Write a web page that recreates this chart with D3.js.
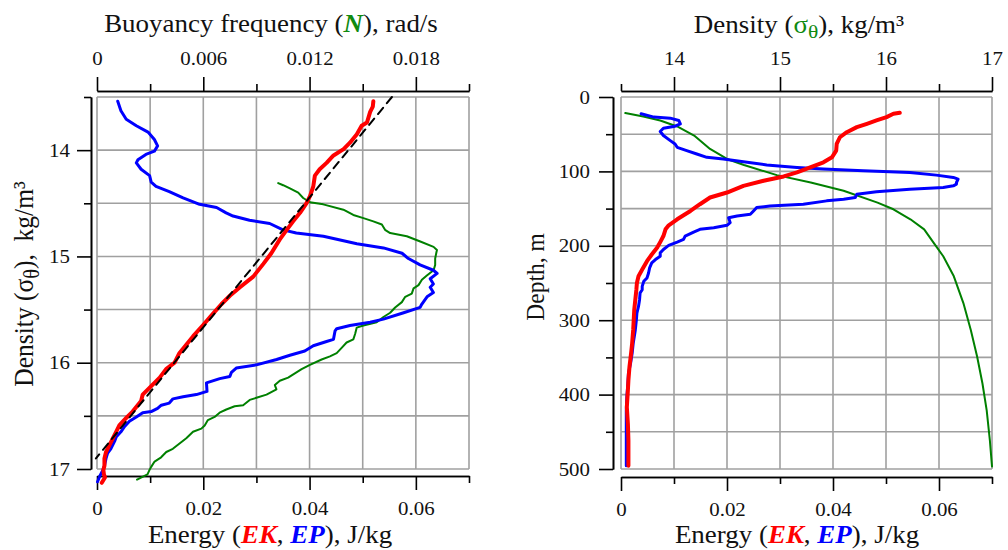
<!DOCTYPE html>
<html>
<head>
<meta charset="utf-8">
<script src="https://cdn.jsdelivr.net/npm/d3@7"></script>
<style>
  body { margin: 0; background: #fff; }
  text { font-family: "Liberation Serif", "Times New Roman", serif; }
</style>
</head>
<body>
<svg id="chart" width="1008" height="550"></svg>
<script>
// tick values
const energyTicks = [0, 0.02, 0.04, 0.06];
const energyMinor = [0.01, 0.03, 0.05, 0.07];
const nTicks = [0, 0.006, 0.012, 0.018];
const nMinor = [0.003, 0.009, 0.015, 0.021];
const densityTicks = [14, 15, 16, 17];
const densityMinor = [13.5, 14.5, 15.5, 16.5];
const depthTicks = [0, 100, 200, 300, 400, 500];
const depthMinor = [50, 150, 250, 350, 450];

// left panel: [EP J/kg, sigma-theta]
const epLeft = [[0.0039,13.54],[0.0045,13.63],[0.0055,13.71],[0.0074,13.77],[0.0096,13.83],[0.0108,13.90],[0.0114,13.96],[0.0108,14.01],[0.0092,14.04],[0.0077,14.09],[0.0074,14.12],[0.0083,14.18],[0.0099,14.24],[0.0102,14.30],[0.0111,14.34],[0.0136,14.39],[0.0162,14.45],[0.0193,14.51],[0.0225,14.54],[0.0243,14.59],[0.0256,14.62],[0.0287,14.66],[0.0325,14.69],[0.0350,14.75],[0.0375,14.78],[0.0426,14.81],[0.0489,14.88],[0.0539,14.92],[0.0574,14.97],[0.0586,15.02],[0.0608,15.08],[0.0633,15.13],[0.0640,15.16],[0.0627,15.21],[0.0633,15.26],[0.0627,15.29],[0.0633,15.34],[0.0621,15.38],[0.0611,15.45],[0.0608,15.48],[0.0577,15.53],[0.0539,15.59],[0.0514,15.62],[0.0476,15.65],[0.0451,15.68],[0.0448,15.70],[0.0445,15.78],[0.0432,15.80],[0.0407,15.84],[0.0391,15.89],[0.0363,15.93],[0.0338,15.97],[0.0300,16.02],[0.0262,16.05],[0.0253,16.09],[0.0250,16.13],[0.0231,16.15],[0.0206,16.19],[0.0207,16.27],[0.0187,16.30],[0.0162,16.32],[0.0143,16.34],[0.0136,16.38],[0.0121,16.40],[0.0114,16.43],[0.0102,16.46],[0.0086,16.47],[0.0074,16.51],[0.0061,16.55],[0.0052,16.60],[0.0045,16.65],[0.0036,16.70],[0.0033,16.74],[0.0026,16.81],[0.0020,16.85],[0.0017,16.90],[0.0014,16.97],[0.0011,17.01],[0.0005,17.07],[0.0001,17.12]];
// left panel: [EK J/kg, sigma-theta]
const ekLeft = [[0.0520,13.54],[0.0519,13.59],[0.0514,13.64],[0.0508,13.74],[0.0498,13.77],[0.0489,13.85],[0.0476,13.93],[0.0464,13.99],[0.0445,14.05],[0.0432,14.12],[0.0419,14.18],[0.0410,14.24],[0.0407,14.34],[0.0401,14.43],[0.0394,14.50],[0.0382,14.59],[0.0369,14.67],[0.0357,14.75],[0.0344,14.84],[0.0328,14.97],[0.0313,15.07],[0.0294,15.19],[0.0269,15.29],[0.0250,15.37],[0.0234,15.45],[0.0218,15.54],[0.0199,15.65],[0.0181,15.75],[0.0168,15.83],[0.0155,15.91],[0.0146,16.00],[0.0130,16.06],[0.0118,16.14],[0.0102,16.22],[0.0086,16.30],[0.0083,16.36],[0.0067,16.46],[0.0055,16.52],[0.0042,16.59],[0.0036,16.65],[0.0030,16.71],[0.0023,16.78],[0.0017,16.84],[0.0014,16.90],[0.0014,16.97],[0.0012,17.01],[0.0013,17.05],[0.0015,17.08],[0.0009,17.13]];
// left panel: [N rad/s, sigma-theta]
const nLeft = [[0.01023,14.31],[0.01051,14.33],[0.01089,14.36],[0.01136,14.40],[0.01164,14.45],[0.01202,14.49],[0.01277,14.51],[0.01391,14.56],[0.01447,14.61],[0.01504,14.64],[0.01560,14.67],[0.01608,14.70],[0.01626,14.75],[0.01655,14.78],[0.01749,14.81],[0.01825,14.86],[0.01900,14.91],[0.01919,14.94],[0.01915,14.97],[0.01909,15.02],[0.01909,15.08],[0.01900,15.13],[0.01862,15.18],[0.01834,15.22],[0.01815,15.27],[0.01787,15.30],[0.01777,15.35],[0.01740,15.38],[0.01721,15.43],[0.01683,15.48],[0.01655,15.53],[0.01617,15.57],[0.01579,15.62],[0.01504,15.65],[0.01466,15.67],[0.01457,15.73],[0.01447,15.78],[0.01409,15.81],[0.01381,15.86],[0.01353,15.91],[0.01315,15.94],[0.01268,15.97],[0.01202,16.02],[0.01155,16.06],[0.01126,16.09],[0.01079,16.14],[0.01032,16.17],[0.01004,16.21],[0.01013,16.25],[0.00957,16.30],[0.00900,16.33],[0.00862,16.35],[0.00825,16.40],[0.00777,16.41],[0.00730,16.44],[0.00692,16.47],[0.00664,16.51],[0.00626,16.54],[0.00608,16.59],[0.00589,16.62],[0.00542,16.65],[0.00504,16.71],[0.00466,16.76],[0.00428,16.81],[0.00391,16.84],[0.00362,16.89],[0.00325,16.93],[0.00306,16.98],[0.00296,17.01],[0.00285,17.05],[0.00226,17.10]];
// left panel: dashed fit line [EK J/kg, sigma-theta]
const fitLeft = [[0.0555,13.5],[-0.0002,16.9]];

// right panel: [EP J/kg, depth m]
const epRight = [[0.0038,22.5],[0.0062,27.0],[0.0093,28.4],[0.0109,31.5],[0.0112,36.0],[0.0102,39.2],[0.0080,41.9],[0.0074,46.4],[0.0080,51.8],[0.0093,58.6],[0.0102,63.1],[0.0106,67.6],[0.0124,72.1],[0.0143,76.6],[0.0162,81.1],[0.0193,83.3],[0.0231,86.9],[0.0275,91.4],[0.0332,94.6],[0.0382,96.8],[0.0457,99.1],[0.0545,101.4],[0.0595,105.0],[0.0627,108.1],[0.0636,110.4],[0.0633,114.9],[0.0633,117.1],[0.0627,119.4],[0.0608,121.6],[0.0545,123.9],[0.0482,127.5],[0.0445,130.6],[0.0442,135.1],[0.0420,137.4],[0.0388,139.6],[0.0344,144.1],[0.0281,146.4],[0.0256,148.6],[0.0250,153.2],[0.0244,157.7],[0.0219,159.9],[0.0203,162.2],[0.0206,168.9],[0.0200,172.5],[0.0175,175.7],[0.0149,177.9],[0.0137,181.5],[0.0121,186.9],[0.0118,191.4],[0.0106,195.0],[0.0090,199.5],[0.0080,205.0],[0.0074,209.5],[0.0074,214.0],[0.0065,218.5],[0.0058,223.0],[0.0054,229.7],[0.0052,236.5],[0.0049,243.2],[0.0043,247.7],[0.0040,254.5],[0.0040,259.0],[0.0036,263.5],[0.0035,272.5],[0.0033,281.5],[0.0030,290.5],[0.0029,299.5],[0.0027,313.1],[0.0025,322.1],[0.0023,331.1],[0.0021,344.6],[0.0018,358.1],[0.0014,371.6],[0.0013,385.1],[0.0011,403.2],[0.0010,421.2],[0.0010,439.2],[0.0010,461.7],[0.0010,495.5]];
// right panel: [EK J/kg, depth m]
const ekRight = [[0.0526,21.2],[0.0514,22.5],[0.0501,27.0],[0.0482,31.5],[0.0464,36.0],[0.0445,40.5],[0.0426,47.3],[0.0413,54.1],[0.0407,63.1],[0.0406,72.1],[0.0398,81.1],[0.0382,87.8],[0.0357,94.6],[0.0332,101.4],[0.0307,106.8],[0.0269,112.6],[0.0231,119.4],[0.0200,128.4],[0.0168,135.1],[0.0149,144.1],[0.0131,153.2],[0.0118,159.0],[0.0106,164.4],[0.0090,172.5],[0.0084,177.9],[0.0080,186.9],[0.0074,195.0],[0.0068,202.7],[0.0058,211.7],[0.0049,220.7],[0.0040,232.0],[0.0033,241.0],[0.0030,250.0],[0.0029,259.0],[0.0027,272.5],[0.0025,286.0],[0.0024,299.5],[0.0023,313.1],[0.0021,331.1],[0.0019,344.6],[0.0016,362.6],[0.0014,380.6],[0.0013,394.1],[0.0011,416.7],[0.0013,439.2],[0.0014,461.7],[0.0014,484.2],[0.0014,495.5]];
// right panel: [sigma-theta, depth m]
const sigmaRight = [[13.54,21.6],[13.71,26.1],[13.87,31.5],[14.03,39.6],[14.19,51.8],[14.34,69.8],[14.50,83.3],[14.66,91.4],[14.97,105.0],[15.29,114.9],[15.60,126.1],[15.92,141.9],[16.07,150.9],[16.23,164.4],[16.36,177.9],[16.45,196.0],[16.54,214.0],[16.64,241.0],[16.73,277.0],[16.80,313.1],[16.86,349.1],[16.91,385.1],[16.95,421.2],[16.98,461.7],[17.00,496.5]];

const svg = d3.select('#chart');
const GRID = '#a0a0a0';
const SX = 1.1; // glyphs in the source are a little wide
const fmt = d => d === 0 ? '0' : String(d);

// scales
const plotTop = 97, plotBottom = 469;
const xE1 = d3.scaleLinear().domain([0, 0.07]).range([97, 469]);
const xN1 = d3.scaleLinear().domain([0, 0.021]).range([97, 469]);
const yD1 = d3.scaleLinear().domain([13.5, 17]).range([plotTop, plotBottom]);
const xE2 = d3.scaleLinear().domain([0, 0.07]).range([621, 992]);
const xD2 = d3.scaleLinear().domain([13.5, 17]).range([621, 992]);
const yZ2 = d3.scaleLinear().domain([0, 500]).range([plotTop, plotBottom]);

// 网格 + 边框
function grid(x, y, xStep, yStep) {
  const g = svg.append('g');
  g.selectAll('.v').data(d3.range(x.domain()[0], x.domain()[1] + xStep / 2, xStep)).enter()
    .append('line')
    .attr('x1', d => x(d)).attr('x2', d => x(d))
    .attr('y1', y.range()[0]).attr('y2', y.range()[1])
    .attr('stroke', GRID).attr('stroke-width', 1.6);
  g.selectAll('.h').data(d3.range(y.domain()[0], y.domain()[1] + yStep / 2, yStep)).enter()
    .append('line')
    .attr('y1', d => y(d)).attr('y2', d => y(d))
    .attr('x1', x.range()[0]).attr('x2', x.range()[1])
    .attr('stroke', GRID).attr('stroke-width', 1.6);
}

// 坐标轴
function axis(gen, scale, major, minor, tx, ty, pad) {
  const g = svg.append('g').attr('transform', `translate(${tx} ${ty})`);
  g.append('g').call(gen(scale).tickValues(minor).tickSizeInner(7).tickSizeOuter(0).tickFormat(''));
  g.append('g').call(gen(scale).tickValues(major).tickSizeInner(14).tickSizeOuter(0).tickPadding(pad).tickFormat(fmt));
  g.selectAll('.domain').attr('stroke', '#000').attr('stroke-width', 1.6);
  g.selectAll('.tick line').attr('stroke', '#000').attr('stroke-width', 1.6);
  g.selectAll('g').attr('font-family', null);
  g.selectAll('.tick text')
    .attr('font-size', 19)
    .attr('fill', '#111')
    .each(function () {
      const t = d3.select(this);
      const x = +t.attr('x') || 0;
      t.attr('x', x / SX).attr('transform', `scale(${SX},1)`);
    });
  return g;
}

function curve(data, x, y, color, width, dash) {
  svg.append('path')
    .datum(data)
    .attr('fill', 'none')
    .attr('stroke', color)
    .attr('stroke-width', width)
    .attr('stroke-linejoin', 'round')
    .attr('stroke-linecap', 'round')
    .attr('stroke-dasharray', dash || null)
    .attr('d', d3.line().x(d => x(d[0])).y(d => y(d[1])));
}

// ---- left panel ----
grid(xE1, yD1, 0.01, 0.5);
axis(d3.axisTop, xN1, nTicks, nMinor, 0, 91, 12);
axis(d3.axisBottom, xE1, energyTicks, energyMinor, 0, 476, 12);
axis(d3.axisLeft, yD1, densityTicks, densityMinor, 91, 0, 7);

curve(nLeft, xN1, yD1, '#008000', 2);
curve(epLeft, xE1, yD1, '#0000ff', 3);
curve(ekLeft, xE1, yD1, '#ff0000', 4);
curve(fitLeft, xE1, yD1, '#000', 2, '8,6');

// ---- right panel ----
grid(xE2, yZ2, 0.01, 50);
axis(d3.axisTop, xD2, densityTicks, densityMinor, 0, 91, 12);
axis(d3.axisBottom, xE2, energyTicks, energyMinor, 0, 477, 12);
axis(d3.axisLeft, yZ2, depthTicks, depthMinor, 613, 0, 9);

curve(sigmaRight, xD2, yZ2, '#008000', 2);
curve(epRight, xE2, yZ2, '#0000ff', 3);
curve(ekRight, xE2, yZ2, '#ff0000', 4);

// ---- titles ----
function title(x, y, rot, fs, parts) {
  const t = svg.append('text')
    .attr('transform', `translate(${x} ${y}) scale(${SX},1)` + (rot ? ` rotate(${rot})` : ''))
    .attr('text-anchor', 'middle')
    .attr('font-size', fs)
    .attr('fill', '#111');
  parts.forEach(p => {
    const s = t.append('tspan').text(p.t);
    if (p.c) s.attr('fill', p.c);
    if (p.b) s.attr('font-weight', 'bold').attr('font-style', 'italic');
    if (p.sub) s.attr('font-size', fs * 0.8).attr('dy', 5);
    if (p.up) s.attr('dy', -5);
  });
}

const energyTitle = [{ t: 'Energy (' }, { t: 'EK', c: '#ff0000', b: true }, { t: ', ' }, { t: 'EP', c: '#0000ff', b: true }, { t: '), J/kg' }];
title(271, 32, 0, 24.5, [{ t: 'Buoyancy frequency (' }, { t: 'N', c: '#108a10', b: true }, { t: '), rad/s' }]);
title(270, 543, 0, 24.5, energyTitle);
title(797, 543, 0, 24.5, energyTitle);
title(799, 33, 0, 24.5, [{ t: 'Density (' }, { t: 'σ', c: '#108a10' }, { t: 'θ', c: '#108a10', sub: true }, { t: '), kg/m³', up: true }]);
title(33, 284, -90, 25.5, [{ t: 'Density (σ' }, { t: 'θ', sub: true }, { t: '),\u00a0\u00a0kg/m³', up: true }]);
title(544, 277, -90, 23.5, [{ t: 'Depth, m' }]);
</script>
</body>
</html>
